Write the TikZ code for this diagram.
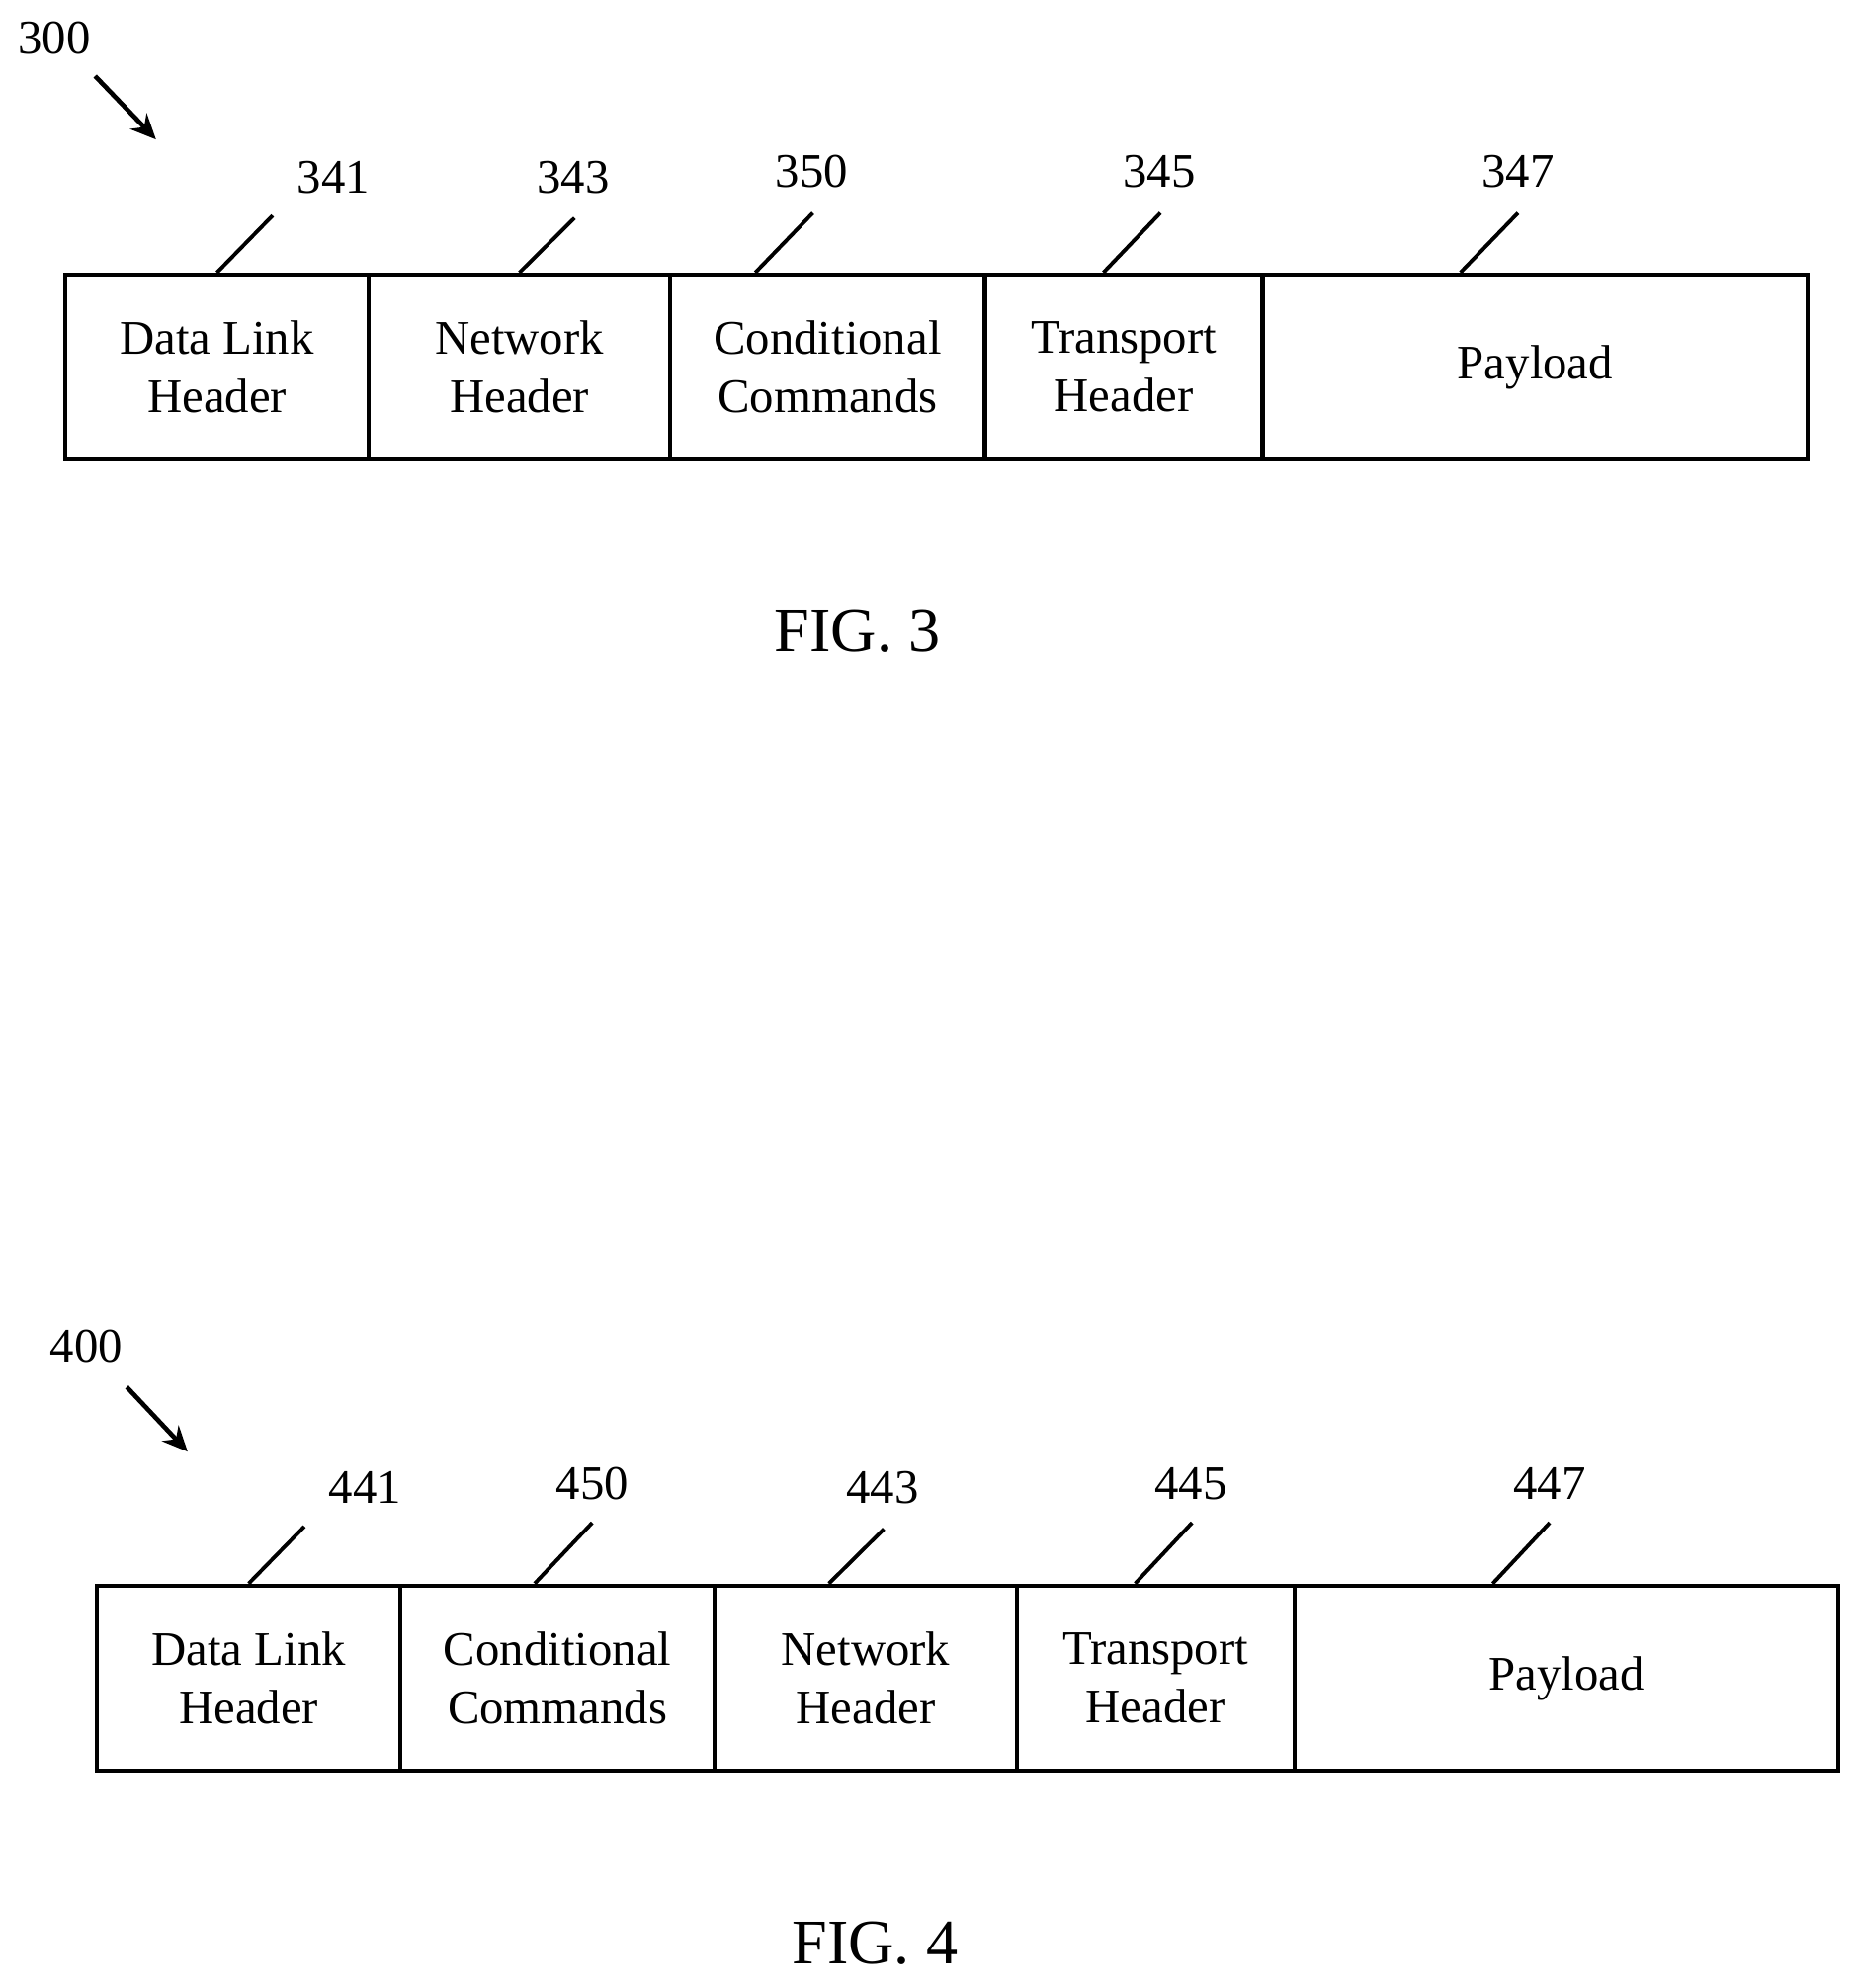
\documentclass[tikz,border=0pt]{standalone}
\usepackage{fontspec}
\setmainfont{Liberation Serif}
\usetikzlibrary{arrows.meta}
\begin{document}
\begin{tikzpicture}[x=0.5pt,y=-0.5pt,
  cell/.style={draw,line width=1.6pt,minimum height=73pt,inner sep=0pt,align=center,font=\fontsize{19}{23}\selectfont,anchor=north west},
  num/.style={font=\fontsize{19}{23}\selectfont},
  lead/.style={line width=1.5pt},
  fig/.style={font=\fontsize{25}{30}\selectfont},
  arr/.style={line width=1.8pt,-{Stealth[length=10pt,width=9pt]}}]
\useasboundingbox (0,0) rectangle (1465,1568);
% FIG 3
\node[cell,minimum width=119.5pt] (a1) at (50,215) {Data Link\\Header};
\node[cell,minimum width=119pt] (a2) at (289,215) {Network\\Header};
\node[cell,minimum width=124pt] (a3) at (527,215) {Conditional\\Commands};
\node[cell,minimum width=109.5pt] (a4) at (775,215) {Transport\\Header};
\node[cell,minimum width=215pt] (a5) at (994,215) {Payload};
\node[num] (n341) at (263,140) {341};
\node[num] (n343) at (452,140) {343};
\node[num] (n350) at (640,135) {350};
\node[num] (n345) at (914,135) {345};
\node[num] (n347) at (1197,135) {347};
\coordinate (t1) at (215,170); \coordinate (t2) at (453,172); \coordinate (t3) at (641,168);
\coordinate (t4) at (915,168); \coordinate (t5) at (1197,168);
\draw[lead] (a1.north) -- (t1); \draw[lead] (a2.north) -- (t2);
\draw[lead] ([xshift=-28.5pt]a3.north) -- (t3);
\draw[lead] ([xshift=-8pt]a4.north) -- (t4);
\draw[lead] ([xshift=-29.5pt]a5.north) -- (t5);
\node[num] (n300) at (43,30) {300};
\coordinate (s3) at (75,60); \coordinate (e3) at (123,110);
\draw[arr] (s3) -- (e3);
\node[fig] (f3) at (676,498) {FIG. 3};
% FIG 4
\node[cell,minimum width=119.5pt] (b1) at (75,1249) {Data Link\\Header};
\node[cell,minimum width=124pt] (b2) at (314,1249) {Conditional\\Commands};
\node[cell,minimum width=119pt] (b3) at (562,1249) {Network\\Header};
\node[cell,minimum width=109.5pt] (b4) at (800,1249) {Transport\\Header};
\node[cell,minimum width=214.5pt] (b5) at (1019,1249) {Payload};
\node[num] (n441) at (288,1173) {441};
\node[num] (n450) at (467,1170) {450};
\node[num] (n443) at (696,1173) {443};
\node[num] (n445) at (939,1170) {445};
\node[num] (n447) at (1222,1170) {447};
\coordinate (u1) at (240,1204); \coordinate (u2) at (467,1201); \coordinate (u3) at (697,1206);
\coordinate (u4) at (940,1201); \coordinate (u5) at (1222,1201);
\draw[lead] (b1.north) -- (u1);
\draw[lead] ([xshift=-9pt]b2.north) -- (u2);
\draw[lead] ([xshift=-14.5pt]b3.north) -- (u3);
\draw[lead] ([xshift=-8pt]b4.north) -- (u4);
\draw[lead] ([xshift=-29pt]b5.north) -- (u5);
\node[num] (n400) at (68,1062) {400};
\coordinate (s4) at (100,1094); \coordinate (e4) at (148,1145);
\draw[arr] (s4) -- (e4);
\node[fig] (f4) at (690,1533) {FIG. 4};
\end{tikzpicture}
\end{document}
